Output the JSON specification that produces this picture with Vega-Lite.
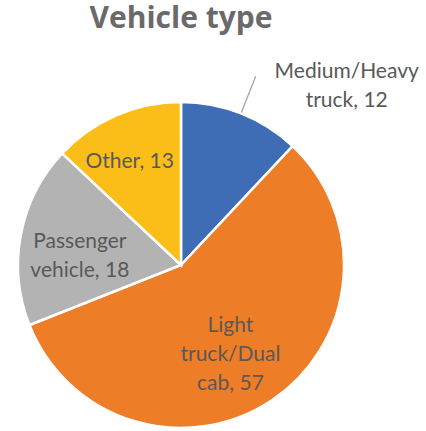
{
  "$schema": "https://vega.github.io/schema/vega-lite/v6.json",
  "width": 362,
  "height": 330,
  "autosize": {"type": "none"},
  "padding": {"left": 0, "top": 100, "right": 64, "bottom": 1},
  "background": "white",
  "title": {"text": "Vehicle type", "font": "Open Sans", "fontSize": 30, "fontWeight": "bold", "color": "#6A6A6A", "anchor": "middle", "frame": "group", "offset": 27},
  "data": {"values": [
    {"category": "Medium/Heavy truck", "value": 12, "label": "Medium/Heavy\ntruck, 12"},
    {"category": "Light truck/Dual cab", "value": 57, "label": "Light\ntruck/Dual\ncab, 57"},
    {"category": "Passenger vehicle", "value": 18, "label": "Passenger\nvehicle, 18"},
    {"category": "Other", "value": 13, "label": "Other, 13"}
  ]},
  "transform": [{"window": [{"op": "row_number", "as": "idx"}]}],
  "encoding": {
    "theta": {"field": "value", "type": "quantitative", "stack": true},
    "order": {"field": "idx", "type": "quantitative"},
    "color": {
      "field": "category", "type": "nominal", "legend": null,
      "scale": {
        "domain": ["Medium/Heavy truck", "Light truck/Dual cab", "Passenger vehicle", "Other"],
        "range": ["#3E6DB5", "#EE7D27", "#B3B3B3", "#FBBE18"]
      }
    }
  },
  "layer": [
    {"mark": {"type": "arc", "outerRadius": 163, "stroke": "white", "strokeWidth": 2.5}},
    {
      "mark": {"type": "arc", "radius": 203, "radius2": 164, "padAngle": 3, "strokeWidth": 1.3, "strokeJoin": "bevel"},
      "encoding": {
        "color": {"value": "#A6A6A6"},
        "stroke": {"value": "#A6A6A6"},
        "opacity": {"condition": {"test": "datum.category === 'Medium/Heavy truck'", "value": 1}, "value": 0}
      }
    },
    {
      "mark": {"type": "text", "radius": 104, "dx": -10, "dy": -8, "font": "Lato", "fontSize": 21, "lineHeight": 29, "lineBreak": "\n", "align": "center", "baseline": "middle"},
      "encoding": {
        "text": {"condition": {"test": "datum.category !== 'Other'", "value": ""}, "field": "label", "type": "nominal"},
        "color": {"value": "#595959"}
      }
    },
    {
      "mark": {"type": "text", "radius": 104, "dx": 1, "dy": -4, "font": "Lato", "fontSize": 21, "lineHeight": 29, "lineBreak": "\n", "align": "center", "baseline": "middle"},
      "encoding": {
        "text": {"condition": {"test": "datum.category !== 'Passenger vehicle'", "value": ""}, "field": "label", "type": "nominal"},
        "color": {"value": "#595959"}
      }
    },
    {
      "mark": {"type": "text", "radius": 104, "dx": -9, "dy": -25, "font": "Lato", "fontSize": 21, "lineHeight": 29, "lineBreak": "\n", "align": "center", "baseline": "middle"},
      "encoding": {
        "text": {"condition": {"test": "datum.category !== 'Light truck/Dual cab'", "value": ""}, "field": "label", "type": "nominal"},
        "color": {"value": "#595959"}
      }
    },
    {
      "mark": {"type": "text", "radius": 203, "dx": 91, "dy": -4, "font": "Lato", "fontSize": 21, "lineHeight": 29, "lineBreak": "\n", "align": "center", "baseline": "middle"},
      "encoding": {
        "text": {"condition": {"test": "datum.category !== 'Medium/Heavy truck'", "value": ""}, "field": "label", "type": "nominal"},
        "color": {"value": "#595959"}
      }
    }
  ]
}
